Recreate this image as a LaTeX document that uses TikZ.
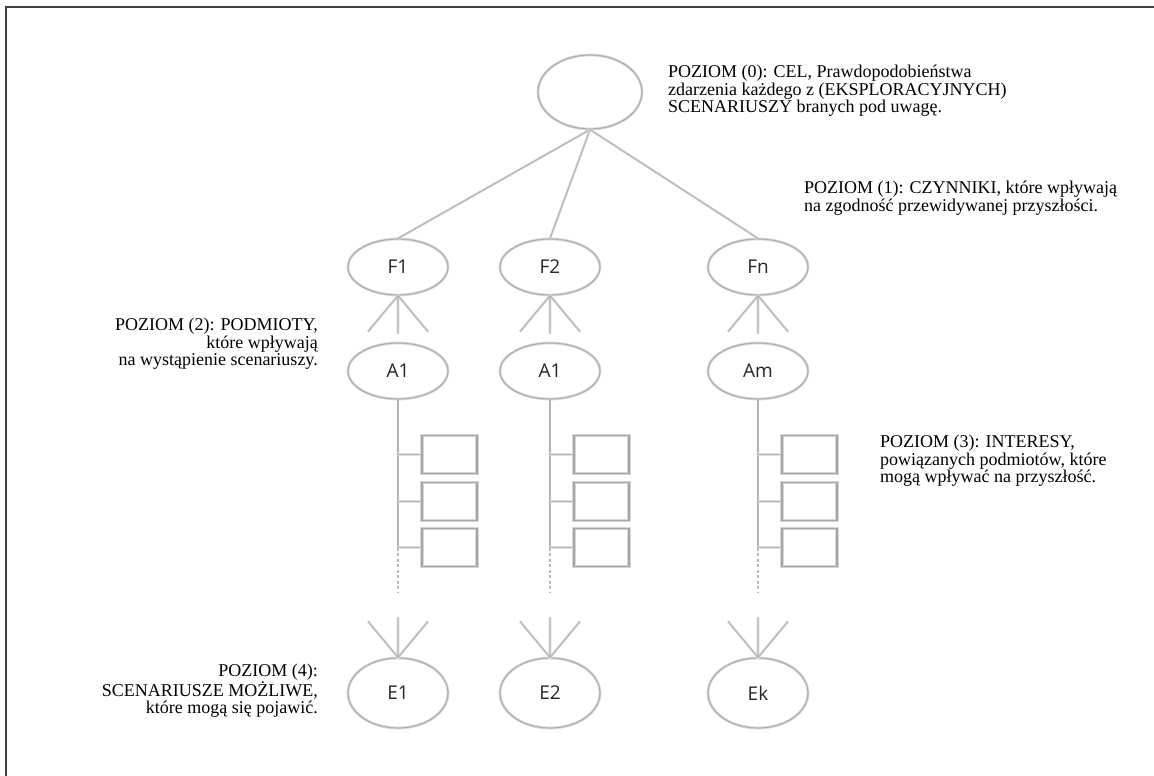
\documentclass[tikz,border=0pt]{standalone}
\usepackage{fontspec}
\setmainfont{Liberation Serif}
\newfontfamily\lblfont{Open Sans}
\usetikzlibrary{shapes.geometric}
\begin{document}
\begin{tikzpicture}[x=1pt,y=-1pt,
  oval/.style={ellipse, preaction={draw=gray!28, line width=2.8pt},
    draw=gray!62, line width=1.2pt, minimum width=100pt,
    minimum height=56pt, inner sep=0pt, font=\lblfont\fontsize{19}{19}\selectfont, text=black!85},
  link/.style={preaction={draw=gray!25, line width=2.6pt}, draw=gray!58, line width=1.1pt},
  dots/.style={draw=gray!55, line width=1.3pt, dash pattern=on 3pt off 2.5pt},
  item/.style={preaction={draw=gray!32, line width=3.2pt}, draw=gray!70, line width=1.3pt,
    minimum width=55pt, minimum height=38pt, inner sep=0pt},
  note/.style={font=\fontsize{18}{17.5}\selectfont, inner sep=0pt}
]
\useasboundingbox (0,0) rectangle (1154,776);
% page frame (top and left edges)
\draw[black!75, line width=1.2pt] (1154,7) -- (6,7) -- (6,776);

% level 0
\node[oval, minimum width=104pt, minimum height=74pt] (goal) at (590,92) {};

% level 1
\node[oval] (f1) at (398,267) {F1};
\node[oval] (f2) at (550,267) {F2};
\node[oval] (fn) at (758,267) {Fn};
\foreach \f in {f1,f2,fn} \draw[link] (goal.south) -- (\f.north);

% level 2
\node[oval] (a1) at (398,371) {A1};
\node[oval] (a2) at (550,371) {A1};
\node[oval] (am) at (758,371) {Am};

% level 4
\node[oval, minimum height=70pt] (e1) at (398,693) {E1};
\node[oval, minimum height=70pt] (e2) at (550,693) {E2};
\node[oval, minimum height=70pt] (ek) at (758,693) {Ek};

\foreach \f/\a/\e/\c in {f1/a1/e1/1, f2/a2/e2/2, fn/am/ek/3}{
  % fan between factor and actor
  \coordinate (l\c) at ([xshift=-30pt,yshift=-36pt]\f.south);
  \coordinate (m\c) at ([yshift=-38pt]\f.south);
  \coordinate (r\c) at ([xshift=30pt,yshift=-36pt]\f.south);
  \draw[link] (l\c) -- (\f.south) -- (r\c) (\f.south) -- (m\c);
  % interest boxes
  \node[item] (b\c1) at ([xshift=51.5pt,yshift=-55pt]\a.south) {};
  \node[item] (b\c2) at ([xshift=51.5pt,yshift=-102pt]\a.south) {};
  \node[item] (b\c3) at ([xshift=51.5pt,yshift=-148pt]\a.south) {};
  \coordinate (s\c) at (\a.south |- b\c3.west);
  \coordinate (d\c) at ([yshift=-45pt]s\c);
  \draw[link] (\a.south) -- (s\c);
  \draw[dots] (s\c) -- (d\c);
  \foreach \k in {1,2,3} \draw[link] (b\c\k.west -| s\c) -- (b\c\k.west);
  % fan into scenario
  \coordinate (p\c) at ([xshift=-30pt,yshift=36pt]\e.north);
  \coordinate (q\c) at ([yshift=40pt]\e.north);
  \coordinate (t\c) at ([xshift=30pt,yshift=36pt]\e.north);
  \draw[link] (p\c) -- (\e.north) -- (t\c) (\e.north) -- (q\c);
}

% level descriptions
\node[note, anchor=north west, align=left] (n0) at (668,65)
  {POZIOM (0): CEL, Prawdopodobieństwa\\zdarzenia każdego z (EKSPLORACYJNYCH)\\SCENARIUSZY branych pod uwagę.};
\node[note, anchor=north west, align=left] (n1) at (804,181)
  {POZIOM (1): CZYNNIKI, które wpływają\\na zgodność przewidywanej przyszłości.};
\node[note, anchor=north east, align=right] (n2) at (318,318)
  {POZIOM (2): PODMIOTY,\\które wpływają\\na wystąpienie scenariuszy.};
\node[note, anchor=north west, align=left] (n3) at (880,435)
  {POZIOM (3): INTERESY,\\powiązanych podmiotów, które\\mogą wpływać na przyszłość.};
\node[note, anchor=north east, align=right] (n4) at (318,664)
  {POZIOM (4):\\SCENARIUSZE MOŻLIWE,\\które mogą się pojawić.};
\end{tikzpicture}
\end{document}
